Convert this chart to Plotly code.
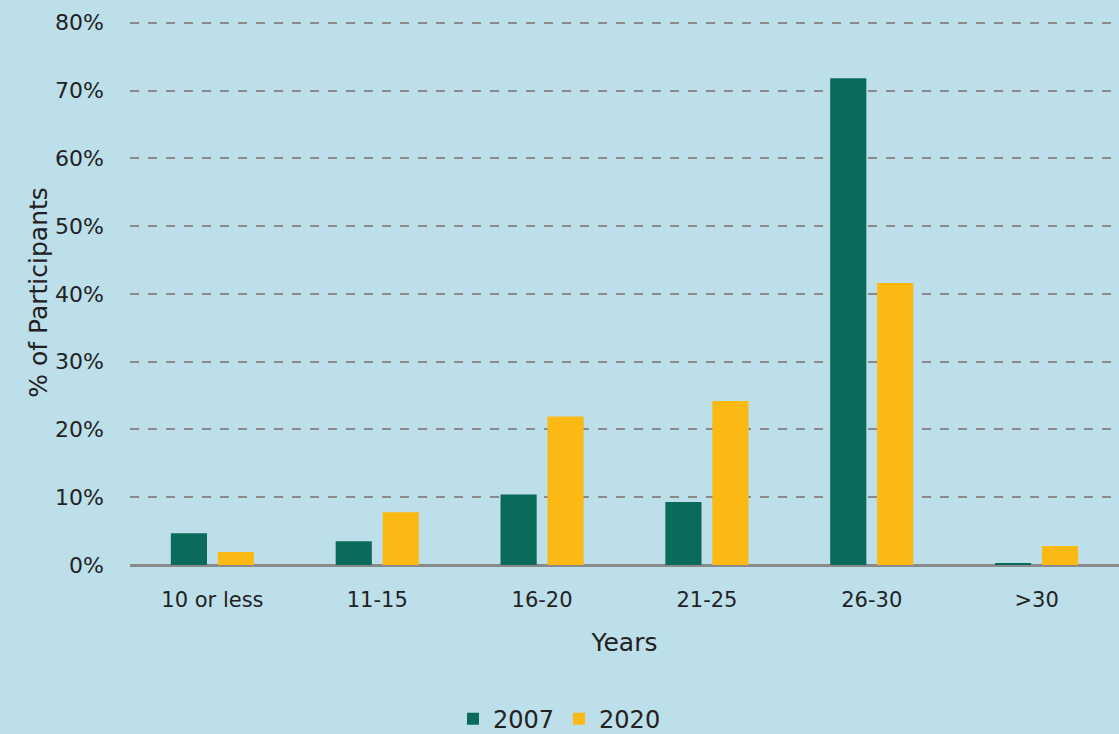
import plotly.graph_objects as go

categories = ["10 or less", "11-15", "16-20", "21-25", "26-30", ">30"]
values_2007 = [4.7, 3.5, 10.4, 9.3, 71.8, 0.2]
values_2020 = [1.9, 7.8, 21.9, 24.2, 41.6, 2.8]
y_ticks = [0, 10, 20, 30, 40, 50, 60, 70, 80]
y_ticktext = [f"{v}%" for v in y_ticks]

FONT = "DejaVu Sans"
BG = "#BDDFEA"

fig = go.Figure()
fig.add_trace(go.Bar(name="2007", x=categories, y=values_2007, marker_color="#0B6B5A", marker_line_width=0))
fig.add_trace(go.Bar(name="2020", x=categories, y=values_2020, marker_color="#FDB913", marker_line_width=0))

fig.update_layout(
    width=1119, height=734,
    paper_bgcolor=BG, plot_bgcolor=BG,
    barmode="group", bargap=0.43, bargroupgap=0.23,
    margin=dict(l=130, r=0, t=20, b=169),
    font=dict(family=FONT, size=20, color="#222222"),
    showlegend=True,
    legend=dict(orientation="h", xref="container", x=0.5, xanchor="center",
                yref="container", y=0.051, yanchor="top",
                font=dict(size=24, color="#222222"), itemwidth=30,
                bgcolor="rgba(0,0,0,0)", traceorder="normal"),
    xaxis=dict(title=dict(text="Years", font=dict(size=25), standoff=22),
               showgrid=False, showline=False, ticks="", ticklabelstandoff=20,
               tickfont=dict(size=21)),
    yaxis=dict(range=[0, 80.4], tickvals=y_ticks, ticktext=y_ticktext,
               showgrid=True, gridcolor="#8A8A8A", gridwidth=2, griddash="dash",
               zeroline=True, zerolinecolor="#8A8A8A", zerolinewidth=3,
               showline=False, ticks="", ticklabelstandoff=25,
               title=dict(text="% of Participants", font=dict(size=25), standoff=0),
               tickfont=dict(size=22)),
)

fig.write_html("out.html", config={"displayModeBar": False})

with open("out.html", "r", encoding="utf-8") as f:
    html = f.read()
html = html.replace("<head>", "<head><style>html,body{margin:0;padding:0;}</style>", 1)
with open("out.html", "w", encoding="utf-8") as f:
    f.write(html)
